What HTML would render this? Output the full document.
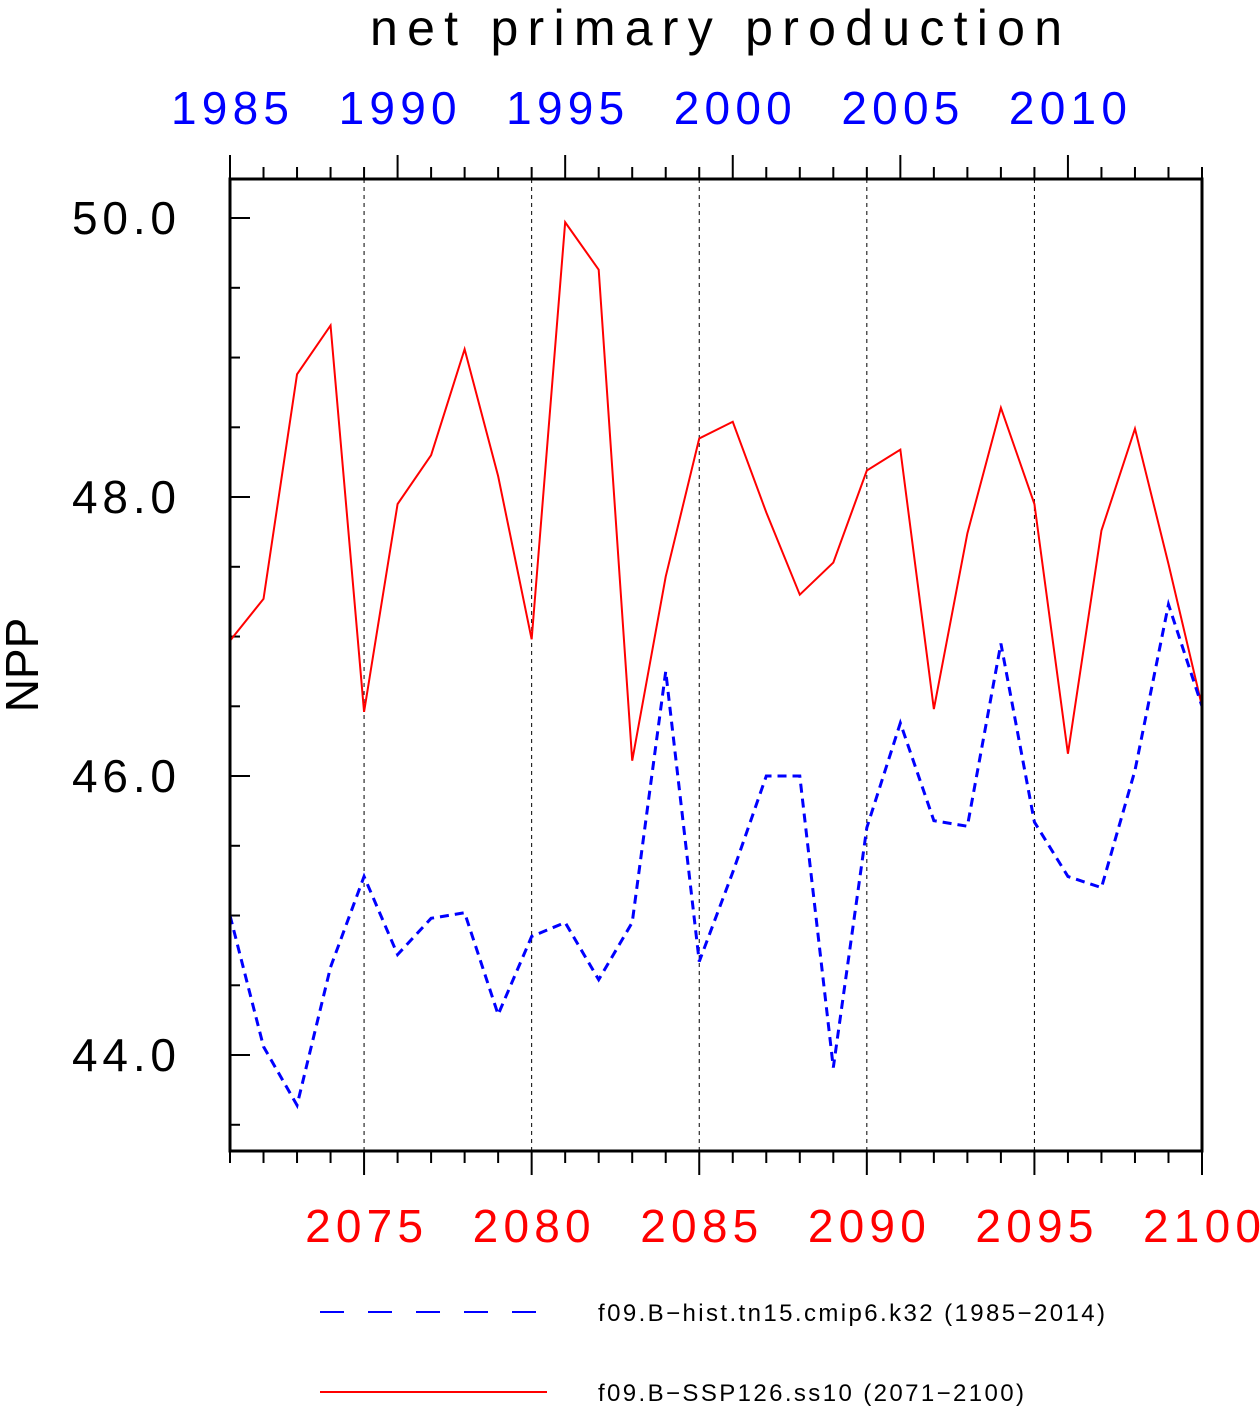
<!DOCTYPE html>
<html><head><meta charset="utf-8"><style>body{margin:0;background:#fff}svg text{font-family:"Liberation Sans",sans-serif}</style></head>
<body>
<svg id="c" width="1260" height="1407"></svg>
<script>
const redYears=[2071,2072,2073,2074,2075,2076,2077,2078,2079,2080,2081,2082,2083,2084,2085,2086,2087,2088,2089,2090,2091,2092,2093,2094,2095,2096,2097,2098,2099,2100];
const redValues=[46.97,47.27,48.88,49.23,46.46,47.95,48.30,49.06,48.15,46.98,49.97,49.63,46.11,47.43,48.42,48.54,47.89,47.30,47.53,48.19,48.34,46.48,47.74,48.64,47.95,46.16,47.76,48.49,47.52,46.50];
const blueYears=[1985,1986,1987,1988,1989,1990,1991,1992,1993,1994,1995,1996,1997,1998,1999,2000,2001,2002,2003,2004,2005,2006,2007,2008,2009,2010,2011,2012,2013,2014];
const blueValues=[45.00,44.06,43.64,44.63,45.28,44.72,44.98,45.02,44.29,44.85,44.95,44.54,44.95,46.75,44.67,45.31,46.00,46.00,43.91,45.63,46.38,45.68,45.64,46.95,45.67,45.28,45.20,46.04,47.23,46.50];
const yTicks=[44,46,48,50];
const yTickLabels=["44.0","46.0","48.0","50.0"];
const bottomTicks=[2075,2080,2085,2090,2095,2100];
const topTicks=[1985,1990,1995,2000,2005,2010];

const L=230,R=1202,T=179,B=1151;
const ymin=43.312,ymax=50.28;
const yS=v=>B-(v-ymin)/(ymax-ymin)*(B-T);
const xB=v=>L+(v-2071)/29*(R-L);
const xT=v=>L+(v-1985)/29*(R-L);
const svg=document.getElementById('c');
const NS='http://www.w3.org/2000/svg';
function mk(tag,attrs,parent){const e=document.createElementNS(NS,tag);for(const k in attrs)e.setAttribute(k,attrs[k]);(parent||svg).appendChild(e);return e;}

for(const t of bottomTicks){if(t===2100)continue;const g=mk('line',{x1:xB(t),x2:xB(t),y1:T,y2:B,stroke:'#000','stroke-width':1,'stroke-dasharray':'4,4'});

}
for(let y=2071;y<=2100;y++){const maj=bottomTicks.includes(y);const l=mk('line',{x1:xB(y),x2:xB(y),y1:B,y2:B+(maj?24:12),stroke:'#000','stroke-width':2});

}
for(const t of bottomTicks){const tx=mk('text',{x:xB(t)-59,y:1242,'font-size':46,fill:'#f00',textLength:118,lengthAdjust:'spacing'});tx.textContent=t;

}
for(let y=1985;y<=2014;y++){const maj=topTicks.includes(y);const l=mk('line',{x1:xT(y),x2:xT(y),y1:T,y2:T-(maj?24:12),stroke:'#000','stroke-width':2});

}
for(const t of topTicks){const tx=mk('text',{x:xT(t)-59,y:124,'font-size':46,fill:'#00f',textLength:118,lengthAdjust:'spacing'});tx.textContent=t;

}
for(let v=43.5;v<=50.01;v+=0.5){const maj=Math.abs(v-Math.round(v/2)*2)<1e-6;const l=mk('line',{x1:L,x2:L+(maj?20:10),y1:yS(v),y2:yS(v),stroke:'#000','stroke-width':2});

}
yTicks.forEach((t,i)=>{const tx=mk('text',{x:72,y:yS(t)+16,'font-size':46,fill:'#000',textLength:104,lengthAdjust:'spacing'});tx.textContent=yTickLabels[i];

});
const rp=mk('polyline',{points:redYears.map((y,i)=>xB(y)+','+yS(redValues[i])).join(' '),fill:'none',stroke:'#f00','stroke-width':2});


const bp=mk('polyline',{points:blueYears.map((y,i)=>xT(y)+','+yS(blueValues[i])).join(' '),fill:'none',stroke:'#00f','stroke-width':3,'stroke-dasharray':'9,6'});


const fr=mk('rect',{x:L,y:T,width:R-L,height:B-T,fill:'none',stroke:'#000','stroke-width':3});


</script>
<svg width="1260" height="1407" style="position:absolute;left:0;top:0">
<text x="370" y="45" font-size="50" textLength="692" lengthAdjust="spacing">net  primary  production</text>
<text transform="translate(38,665) rotate(-90)" text-anchor="middle" font-size="46">NPP</text>
<line x1="320" x2="540" y1="1312" y2="1312" stroke="#00f" stroke-width="2" stroke-dasharray="24,24"/>
<text x="598" y="1321" font-size="24" textLength="507" lengthAdjust="spacing">f09.B−hist.tn15.cmip6.k32 (1985−2014)</text>
<line x1="320" x2="547" y1="1392" y2="1392" stroke="#f00" stroke-width="2"/>
<text x="598" y="1401" font-size="24" textLength="426" lengthAdjust="spacing">f09.B−SSP126.ss10 (2071−2100)</text>
</svg>
</body></html>
